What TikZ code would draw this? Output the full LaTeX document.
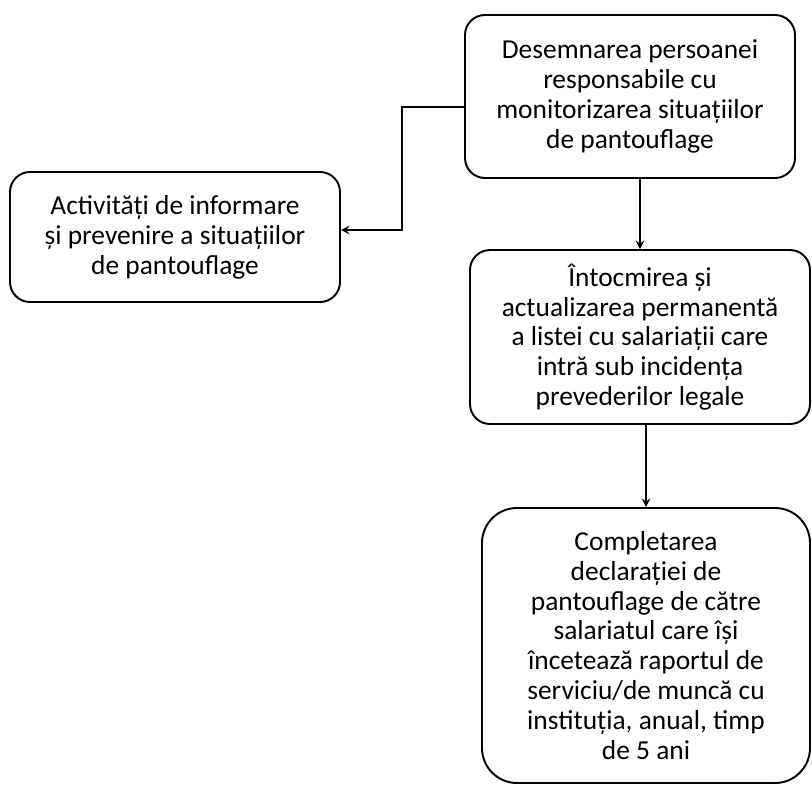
\documentclass[tikz,border=0pt]{standalone}
\usepackage{fontspec}
\setmainfont{Carlito}
\usetikzlibrary{arrows}
\tikzset{>=stealth}
\tikzset{
  etapa/.style={draw, line width=1.1pt, rounded corners=0.4cm, align=center,
    inner sep=0pt, font=\fontsize{15.6}{17}\selectfont},
  sageata/.style={->, line width=1.1pt},
}

\begin{document}
\begin{tikzpicture}
\useasboundingbox (0,0) rectangle (16.24,-15.7);
% etapele procedurii
\node[etapa, minimum width=6.6cm, minimum height=3.26cm] (desemnare) at (12.6,-1.93)
  {Desemnarea persoanei\\responsabile cu\\monitorizarea situațiilor\\de pantouflage};
\node[etapa, minimum width=6.6cm, minimum height=2.6cm] (informare) at (3.5,-4.74)
  {Activități de informare\\și prevenire a situațiilor\\de pantouflage};
\node[etapa, minimum width=6.8cm, minimum height=3.48cm] (lista) at (12.8,-6.74)
  {Întocmirea și\\actualizarea permanentă\\a listei cu salariații care\\intră sub incidența\\prevederilor legale};
\node[etapa, rounded corners=0.7cm, minimum width=6.56cm, minimum height=5.5cm] (declaratie) at (12.92,-12.91)
  {Completarea\\declarației de\\pantouflage de către\\salariatul care își\\încetează raportul de\\serviciu/de muncă cu\\instituția, anual, timp\\de 5 ani};
% legaturi
\coordinate (cot) at (8.04,-2.14);
\draw[sageata] (desemnare.west |- cot) -- (cot) |- ([yshift=0.14cm]informare.east);
\draw[sageata] (desemnare.south -| lista.north) -- (lista.north);
\draw[sageata] (lista.south -| declaratie.north) -- (declaratie.north);
\end{tikzpicture}
\end{document}
